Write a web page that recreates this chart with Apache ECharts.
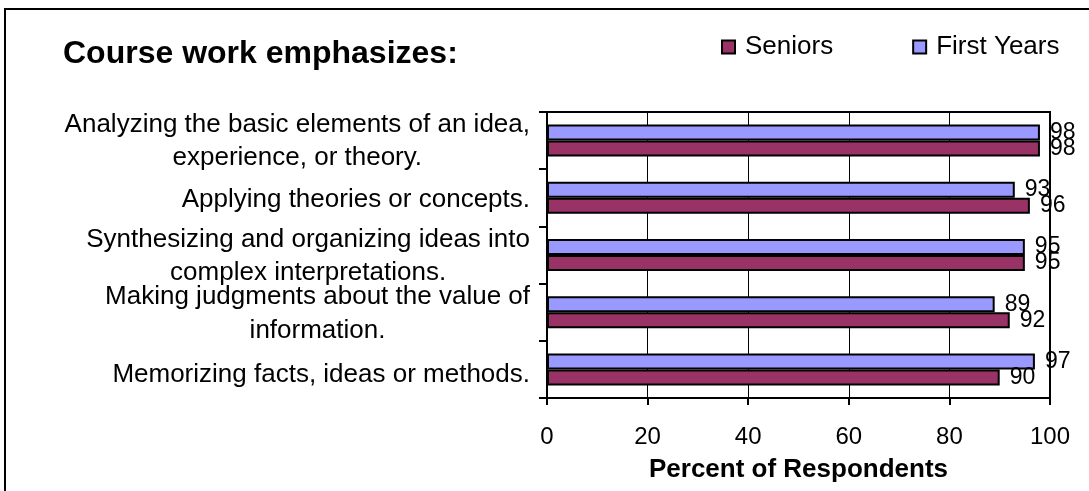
<!DOCTYPE html>
<html>
<head>
<meta charset="utf-8">
<script src="https://cdn.jsdelivr.net/npm/echarts@6/dist/echarts.min.js"></script>
<style>
  html, body { margin: 0; padding: 0; background: #fff; }
  #chart { width: 1089px; height: 491px; }
</style>
</head>
<body>
<div id="chart"></div>
<script>
// categories top to bottom
const categories = [
  'Analyzing the basic elements of an idea,\nexperience, or theory.',
  'Applying theories or concepts.',
  'Synthesizing and organizing ideas into\ncomplex interpretations.',
  'Making judgments about the value of\ninformation.',
  'Memorizing facts, ideas or methods.'
]
const firstYears = [98, 93, 95, 89, 97]
const seniors = [98, 96, 95, 92, 90]
const xTicks = [0, 20, 40, 60, 80, 100]

const font = '"Liberation Sans", Arial, sans-serif'
const chart = echarts.init(document.getElementById('chart'))

// the original's label lines are not spaced evenly: [spacer above, line heights...]
const labelLayout = [
  [0, 35, 31],
  [5, 30],
  [2, 33, 33],
  [0, 37, 31],
  [10, 30]
]

const rich = {}
labelLayout.forEach((lay, i) => {
  rich[`s${i}`] = { fontSize: 1, lineHeight: lay[0] }
  lay.slice(1).forEach((h, j) => {
    rich[`l${i}_${j}`] = { fontFamily: font, fontSize: 26, color: '#000', lineHeight: h, align: 'center' }
  })
})

function catFormatter(value, index) {
  const lay = labelLayout[index]
  const lines = value.split('\n').map((t, j) => `{l${index}_${j}|${t}}`)
  if (lay[0] > 0) lines.unshift(`{s${index}|\u00a0}`)
  return lines.join('\n')
}

const barLabel = {
  show: true,
  position: 'right',
  distance: 10,
  color: '#000',
  fontFamily: font,
  fontSize: 23
}

chart.setOption({
  animation: false,
  backgroundColor: '#fff',
  textStyle: { fontFamily: font },
  graphic: [
    {
      type: 'rect',
      shape: { x: 5, y: 9, width: 1200, height: 600 },
      style: { fill: 'none', stroke: '#000', lineWidth: 2 }
    }
  ],
  title: {
    text: 'Course work emphasizes:',
    left: 58,
    top: 33,
    textStyle: { fontFamily: font, fontSize: 32, fontWeight: 'bold', color: '#000' }
  },
  legend: {
    left: 716,
    top: 29,
    itemGap: 79,
    itemWidth: 13,
    itemHeight: 13,
    icon: 'rect',
    data: ['Seniors', 'First Years'],
    itemStyle: { borderColor: '#000', borderWidth: 2 },
    textStyle: { fontFamily: font, fontSize: 26, color: '#000', padding: [0, 0, 0, 5] }
  },
  grid: {
    left: 547,
    right: 39,
    top: 112,
    bottom: 93,
    show: true,
    borderColor: '#000',
    borderWidth: 2
  },
  xAxis: {
    type: 'value',
    min: 0,
    max: 100,
    interval: 20,
    name: 'Percent of Respondents',
    nameLocation: 'middle',
    nameGap: 59,
    nameTextStyle: { fontFamily: font, fontSize: 26, fontWeight: 'bold', color: '#000' },
    axisLine: { show: true, lineStyle: { color: '#000', width: 2 } },
    axisTick: { show: true, length: 7, lineStyle: { color: '#000', width: 2 } },
    axisLabel: {
      margin: 27,
      color: '#000',
      fontFamily: font,
      fontSize: 24,
      formatter: v => (xTicks.includes(v) ? String(v) : '')
    },
    splitLine: { show: true, lineStyle: { color: '#000', width: 1 } }
  },
  yAxis: {
    type: 'category',
    inverse: true,
    data: categories,
    axisLine: { show: true, lineStyle: { color: '#000', width: 2 } },
    axisTick: { show: true, length: 8, lineStyle: { color: '#000', width: 2 } },
    axisLabel: {
      margin: 17,
      align: 'right',
      formatter: catFormatter,
      rich: rich
    }
  },
  series: [
    {
      name: 'First Years',
      type: 'bar',
      data: firstYears,
      barWidth: 16,
      barGap: '0%',
      itemStyle: { color: '#9999FF', borderColor: '#000', borderWidth: 2 },
      label: barLabel
    },
    {
      name: 'Seniors',
      type: 'bar',
      data: seniors,
      barWidth: 16,
      barGap: '0%',
      itemStyle: { color: '#993366', borderColor: '#000', borderWidth: 2 },
      label: barLabel
    }
  ]
})
</script>
</body>
</html>
